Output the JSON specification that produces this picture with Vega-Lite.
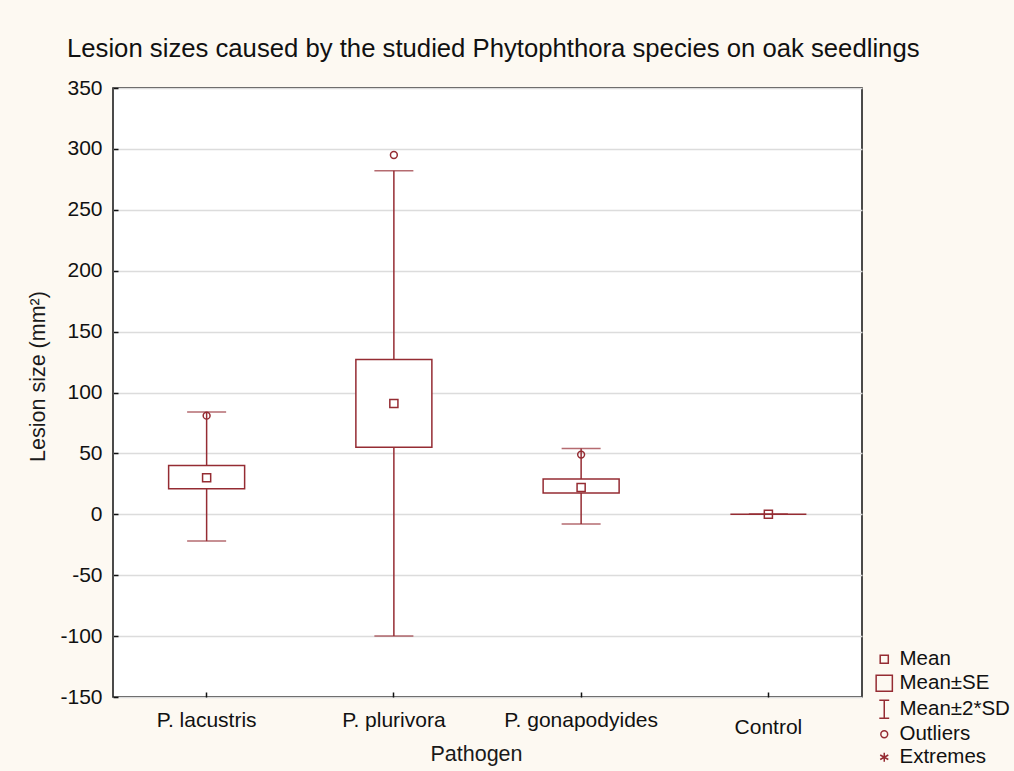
{
  "$schema": "https://vega.github.io/schema/vega-lite/v6.json",
  "width": 749,
  "height": 609,
  "autosize": {"type": "none"},
  "padding": {"left": 113, "top": 88, "right": 152, "bottom": 74},
  "background": "#fdf9f2",
  "title": {
    "text": "Lesion sizes caused by the studied Phytophthora species on oak seedlings",
    "anchor": "start",
    "frame": "group",
    "dx": -46,
    "offset": -6,
    "fontSize": 25.7,
    "font": "Liberation Sans",
    "fontWeight": "normal",
    "color": "#111111",
    "baseline": "alphabetic"
  },
  "data": {
    "values": [
      {"pathogen": "P. lacustris", "mean": 30, "se_lo": 21, "se_hi": 40, "sd_lo": -22, "sd_hi": 84, "outlier": 81},
      {"pathogen": "P. plurivora", "mean": 91, "se_lo": 55, "se_hi": 127, "sd_lo": -100, "sd_hi": 282, "outlier": 295},
      {"pathogen": "P. gonapodyides", "mean": 22, "se_lo": 17.5, "se_hi": 29, "sd_lo": -8, "sd_hi": 54, "outlier": 49},
      {"pathogen": "Control", "mean": 0, "se_lo": 0, "se_hi": 0, "sd_lo": 0, "sd_hi": 0, "outlier": null}
    ]
  },
  "encoding": {
    "x": {
      "field": "pathogen",
      "type": "nominal",
      "sort": null,
      "scale": {"paddingInner": 0, "paddingOuter": 0},
      "axis": {
        "title": "Pathogen",
        "labelAngle": 0,
        "titleX": 363,
        "titlePadding": 6,
        "labelPadding": {"condition": {"test": "datum.value === 'Control'", "value": 24}, "value": 17}
      }
    }
  },
  "layer": [
    {
      "mark": {"type": "rule", "color": "#952c33", "strokeWidth": 1.5},
      "encoding": {
        "y": {
          "field": "sd_lo",
          "type": "quantitative",
          "scale": {"domain": [-150, 350], "nice": false, "zero": false},
          "axis": {
            "title": "Lesion size (mm²)",
            "values": [-150, -100, -50, 0, 50, 100, 150, 200, 250, 300, 350],
            "labelExpr": "replace(datum.label, '−', '-')",
            "titleY": 288,
            "titlePadding": 10
          }
        },
        "y2": {"field": "sd_hi"}
      }
    },
    {
      "mark": {"type": "tick", "color": "#952c33", "size": 39, "thickness": 1.5, "orient": "horizontal"},
      "encoding": {"y": {"field": "sd_lo", "type": "quantitative"}}
    },
    {
      "mark": {"type": "tick", "color": "#952c33", "size": 39, "thickness": 1.5, "orient": "horizontal"},
      "encoding": {"y": {"field": "sd_hi", "type": "quantitative"}}
    },
    {
      "mark": {"type": "bar", "fill": "white", "stroke": "#952c33", "strokeWidth": 1.5, "size": 76},
      "encoding": {"y": {"field": "se_lo", "type": "quantitative"}, "y2": {"field": "se_hi"}}
    },
    {
      "mark": {"type": "point", "filled": false, "color": "#952c33", "strokeWidth": 1.5, "size": 324, "opacity": 1},
      "encoding": {
        "y": {"field": "mean", "type": "quantitative"},
        "shape": {
          "datum": "Mean",
          "scale": {
            "domain": ["Mean", "Mean±SE", "Mean±2*SD", "Outliers", "Extremes"],
            "range": [
              "M-0.45,-0.45H0.45V0.45H-0.45Z",
              "M-0.9,-0.9H0.9V0.9H-0.9Z",
              "M-0.55,-1H0.55M0,-1V1M-0.55,1H0.55",
              "M0.38,0A0.38,0.38 0 1,1 -0.38,0A0.38,0.38 0 1,1 0.38,0Z",
              "M0,-0.5V0.5M-0.45,-0.25L0.45,0.25M-0.45,0.25L0.45,-0.25"
            ]
          },
          "legend": {
            "title": null,
            "orient": "none",
            "legendX": 761,
            "legendY": 561,
            "padding": 0,
            "labelFontSize": 20.5,
            "labelFont": "Liberation Sans",
            "labelColor": "#111111",
            "labelOffset": 5,
            "rowPadding": 2,
            "symbolSize": 324,
            "symbolStrokeColor": "#952c33",
            "symbolFillColor": "transparent",
            "symbolStrokeWidth": 1.5,
            "symbolOpacity": 1
          }
        }
      }
    },
    {
      "transform": [{"filter": "datum.outlier != null"}],
      "mark": {"type": "point", "filled": false, "color": "#952c33", "strokeWidth": 1.5, "size": 324, "opacity": 1},
      "encoding": {
        "y": {"field": "outlier", "type": "quantitative"},
        "shape": {"datum": "Outliers"}
      }
    }
  ],
  "config": {
    "font": "Liberation Sans",
    "view": {"fill": "white", "stroke": "#111111", "strokeWidth": 1.5},
    "axis": {
      "labelFont": "Liberation Sans",
      "labelFontSize": 21,
      "labelColor": "#111111",
      "titleFont": "Liberation Sans",
      "titleFontSize": 21.5,
      "titleFontWeight": "normal",
      "titleColor": "#1a1a1a",
      "domain": false,
      "tickColor": "#111111",
      "tickSize": -5,
      "tickWidth": 1.5,
      "gridColor": "#dcdcdc",
      "gridWidth": 1.5
    },
    "axisX": {"grid": false, "ticks": true},
    "axisY": {"grid": true, "labelPadding": 16}
  }
}
